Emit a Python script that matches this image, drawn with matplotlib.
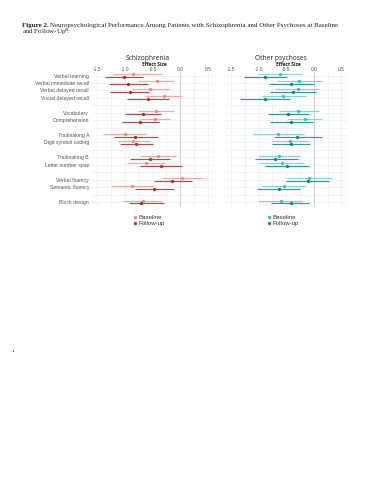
import numpy as np
import matplotlib.pyplot as plt
from matplotlib.ticker import MultipleLocator

tests = ["Verbal learning", "Verbal immediate recall", "Verbal delayed recall",
         "Visual delayed recall", "Vocabulary", "Comprehension", "Trailmaking A",
         "Digit symbol coding", "Trailmaking B", "Letter number span",
         "Verbal fluency", "Semantic fluency", "Block design"]
slots = [0, 1, 2, 3, 5, 6, 8, 9, 11, 12, 14, 15, 17]

# schizophrenia: estimate, lower, upper
scz_base = [-0.86, -0.42, -0.55, -0.30, -0.44, -0.45, -1.00, -0.85, -0.41, -0.62, 0.04, -0.88, -0.68]
scz_base_lo = [-1.21, -0.76, -0.88, -0.64, -0.76, -0.73, -1.39, -1.12, -0.73, -0.97, -0.32, -1.25, -1.03]
scz_base_hi = [-0.33, -0.12, -0.21, 0.03, -0.12, -0.18, -0.61, -0.55, -0.08, -0.27, 0.41, -0.48, -0.33]
scz_fu = [-1.02, -0.94, -0.91, -0.59, -0.67, -0.72, -0.81, -0.80, -0.54, -0.35, -0.15, -0.47, -0.71]
scz_fu_lo = [-1.36, -1.28, -1.27, -0.97, -0.99, -1.06, -1.19, -1.09, -0.91, -0.73, -0.48, -0.81, -0.92]
scz_fu_hi = [-0.67, -0.58, -0.56, -0.21, -0.35, -0.38, -0.41, -0.50, -0.18, 0.03, 0.21, -0.12, -0.30]

# other psychoses
oth_base = [-0.61, -0.27, -0.29, -0.55, -0.28, -0.16, -0.65, -0.44, -0.63, -0.58, -0.09, -0.54, -0.60]
oth_base_lo = [-1.01, -0.67, -0.70, -0.94, -0.64, -0.48, -1.11, -0.75, -1.00, -0.97, -0.48, -0.94, -1.00]
oth_base_hi = [-0.21, 0.14, 0.09, -0.14, 0.09, 0.14, -0.18, -0.11, -0.25, -0.18, 0.32, -0.14, -0.21]
oth_fu = [-0.88, -0.41, -0.38, -0.89, -0.47, -0.41, -0.30, -0.42, -0.70, -0.48, -0.11, -0.64, -0.42]
oth_fu_lo = [-1.27, -0.82, -0.79, -1.33, -0.83, -0.79, -0.73, -0.75, -1.07, -0.89, -0.50, -1.03, -0.77]
oth_fu_hi = [-0.48, 0.00, 0.03, -0.44, -0.09, -0.01, 0.14, -0.07, -0.29, -0.08, 0.27, -0.25, -0.08]

W, H = 371, 480
fig = plt.figure(figsize=(W / 100, H / 100), dpi=100)

# caption: bold lead-in, then regular text right after it
cap_kw = dict(family="Liberation Serif", fontsize=5.0, va="center", color="#222222")
lead = fig.text(22 / W, 1 - 25 / H, "Figure 2.", weight="bold", **cap_kw)
fig.canvas.draw()
x1 = lead.get_window_extent(fig.canvas.get_renderer()).x1
fig.text((x1 + 1.5) / W, 1 - 25 / H,
         "Neuropsychological Performance Among Patients with Schizophrenia and Other Psychoses at Baseline",
         **cap_kw)
fig.text(22 / W, 1 - 32 / H, "and Follow-Up$^{\\mathrm{a}}$.", **cap_kw)
fig.text(13 / W, 1 - 352 / H, "\u2022", fontsize=3.5, ha="center", va="center", color="#333333")

panels = [
    ("Schizophrenia", 91.8, scz_base, scz_base_lo, scz_base_hi, scz_fu, scz_fu_lo, scz_fu_hi,
     ("#f28a86", "#f6aaa8"), ("#a83434", "#b04c4c")),
    ("Other psychoses", 225.5, oth_base, oth_base_lo, oth_base_hi, oth_fu, oth_fu_lo, oth_fu_hi,
     ("#33c4c4", "#7ed8d8"), ("#118585", "#339999")),
]

slots = np.array(slots)
off = 0.2
top_px, bot_px = 72.4, 207.2
for k, (title, left_px, b, blo, bhi, f, flo, fhi, bc, fc) in enumerate(panels):
    ax = fig.add_axes([left_px / W, 1 - bot_px / H, 121.5 / W, (bot_px - top_px) / H])
    ax.set_xlim(-1.6, 0.6)
    ax.set_ylim(17.7, -0.42)
    for s in ax.spines.values():
        s.set_visible(False)
    ax.xaxis.set_minor_locator(MultipleLocator(0.25))
    ax.set_xticks([-1.5, -1.0, -0.5, 0.0, 0.5])
    ax.set_xticklabels(["-1.5", "-1.0", "-0.5", "0.0", "0.5"], family="Liberation Sans")
    ax.xaxis.tick_top()
    ax.tick_params(axis="x", which="both", length=0, labelsize=3.5, labelcolor="#555555", pad=0.4)
    ax.set_yticks(np.arange(18), minor=True)
    ax.tick_params(axis="y", which="both", length=0)
    ax.grid(True, which="both", color="#eeeeee", linewidth=0.5)
    ax.set_axisbelow(True)
    ax.axvline(0, color="#c8c8c8", linewidth=0.6, zorder=1)
    ax.set_yticks(slots)
    if k == 0:
        ax.set_yticklabels(tests, family="Liberation Sans", fontsize=3.7, color="#555555")
        ax.tick_params(axis="y", pad=2)
    else:
        ax.set_yticklabels([])
    b, blo, bhi = np.array(b), np.array(blo), np.array(bhi)
    f, flo, fhi = np.array(f), np.array(flo), np.array(fhi)
    ax.hlines(slots - off, blo, bhi, color=bc[1], linewidth=0.85, zorder=2)
    ax.hlines(slots + off, flo, fhi, color=fc[1], linewidth=0.85, zorder=2)
    hb, = ax.plot(b, slots - off, "o", color=bc[0], markersize=2.4, mew=0, zorder=3)
    hf, = ax.plot(f, slots + off, "o", color=fc[0], markersize=2.4, mew=0, zorder=3)
    cx = left_px + 60.75
    fig.text((cx - 5) / W, 1 - 59 / H, title, family="Open Sans", fontsize=4.8,
             ha="center", va="center", color="#222222")
    fig.text((cx + 2) / W, 1 - 64.6 / H, "Effect Size", family="Open Sans", fontsize=3.5,
             weight="bold", ha="center", va="center", color="#222222")
    leg = fig.legend([hb, hf], ["Baseline", "Follow-up"],
                     loc="upper left", bbox_to_anchor=((left_px + 42) / W, 1 - 214.5 / H),
                     frameon=False, handlelength=0.4, handletextpad=0.45,
                     labelspacing=0.2, borderpad=0, borderaxespad=0,
                     prop={"family": "Liberation Sans", "size": 4.4})
    for t in leg.get_texts():
        t.set_color("#333333")

fig.savefig("out.png", dpi=100)
